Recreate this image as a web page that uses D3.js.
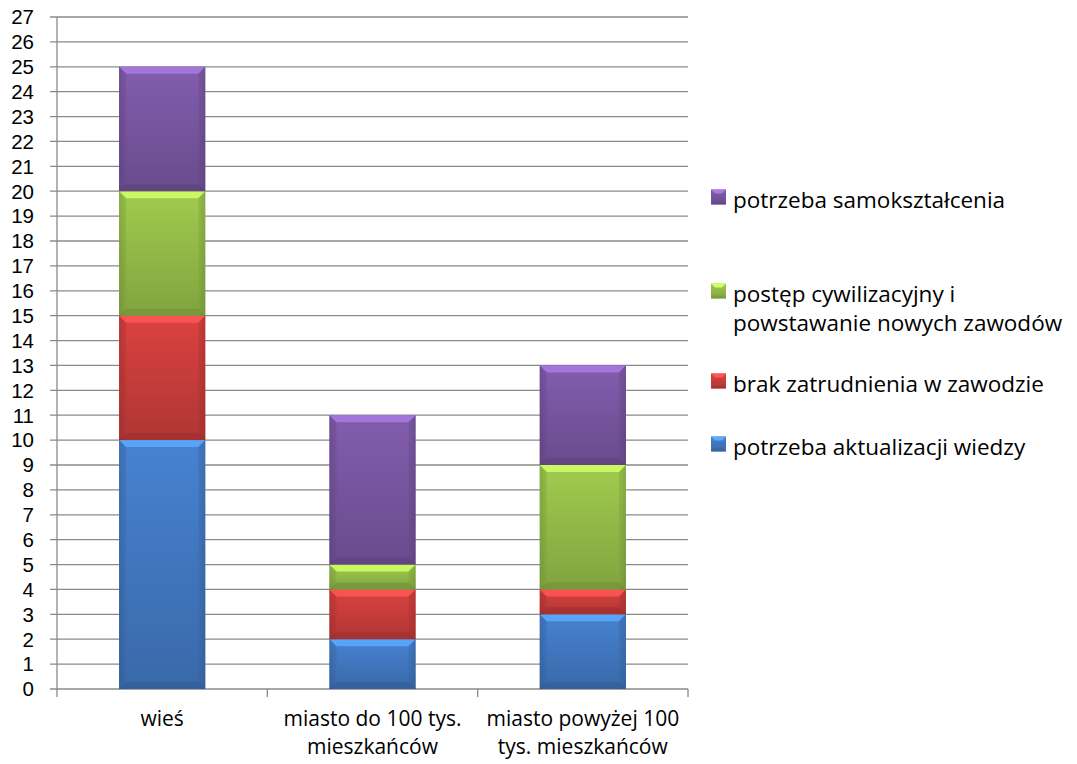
<!DOCTYPE html>
<html><head><meta charset="utf-8">
<script src="https://cdn.jsdelivr.net/npm/d3@7"></script>
<style>body{margin:0;background:#fff}svg{display:block}text{font-family:"Open Sans",sans-serif;fill:#000}</style>
</head><body><svg id="c" width="1077" height="764"></svg>
<script>
const categories = [["wieś"], ["miasto do 100 tys.", "mieszkańców"], ["miasto powyżej 100", "tys. mieszkańców"]];
const seriesNames = ["potrzeba aktualizacji wiedzy", "brak zatrudnienia w zawodzie", "postęp cywilizacyjny i powstawanie nowych zawodów", "potrzeba samokształcenia"];
const aktualizacja = [10, 2, 3];
const brak = [5, 2, 1];
const postep = [5, 1, 5];
const samoksztalcenie = [5, 6, 4];
const yTicks = d3.range(0, 28);
const legendLines = [["potrzeba aktualizacji wiedzy"], ["brak zatrudnienia w zawodzie"], ["postęp cywilizacyjny i", "powstawanie nowych zawodów"], ["potrzeba samokształcenia"]];
const colors = ["#437bc6", "#cf3f3d", "#98c04a", "#7b58a5"];

const svg = d3.select("#c");
const M = {l: 57, r: 688, t: 17, b: 689};
const x = d3.scaleBand().domain(d3.range(categories.length)).range([M.l, M.r]).paddingInner(0.59).paddingOuter(0.295);
const y = d3.scaleLinear().domain([0, 27]).range([M.b, M.t]);
const seriesVals = [aktualizacja, brak, postep, samoksztalcenie];

const defs = svg.append("defs");
colors.forEach((c, i) => {
  const g = defs.append("linearGradient").attr("id", "g" + i).attr("x1", 0).attr("y1", 0).attr("x2", 0).attr("y2", 1);
  const cc = d3.color(c);
  g.append("stop").attr("offset", "0%").attr("stop-color", cc.brighter(0.15));
  g.append("stop").attr("offset", "100%").attr("stop-color", cc.darker(0.45));
  const h = defs.append("linearGradient").attr("id", "h" + i).attr("x1", 0).attr("y1", 0).attr("x2", 1).attr("y2", 0);
  h.append("stop").attr("offset", "0%").attr("stop-color", "#000").attr("stop-opacity", 0.12);
  h.append("stop").attr("offset", "8%").attr("stop-color", "#000").attr("stop-opacity", 0);
  h.append("stop").attr("offset", "92%").attr("stop-color", "#000").attr("stop-opacity", 0);
  h.append("stop").attr("offset", "100%").attr("stop-color", "#000").attr("stop-opacity", 0.12);
});

// gridlines
svg.append("g").selectAll("line").data(yTicks).join("line")
  .attr("x1", M.l - 7).attr("x2", M.r).attr("y1", d => y(d)).attr("y2", d => y(d))
  .attr("stroke", "#8a8a8a").attr("stroke-width", 1.3);
svg.append("line").attr("x1", M.l).attr("x2", M.l).attr("y1", M.t).attr("y2", M.b).attr("stroke", "#8a8a8a").attr("stroke-width", 1.3);
// category ticks
const catTicks = d3.range(categories.length + 1).map(i => M.l + i * (M.r - M.l) / categories.length);
svg.append("g").selectAll("line").data(catTicks).join("line")
  .attr("x1", d => d).attr("x2", d => d).attr("y1", M.b).attr("y2", M.b + 8)
  .attr("stroke", "#8a8a8a").attr("stroke-width", 1.3);

// y labels
svg.append("g").selectAll("text").data(yTicks).join("text")
  .attr("x", 34).attr("y", d => y(d)).attr("dy", "0.36em").attr("text-anchor", "end")
  .style("font-family", "'Liberation Sans', Arial, sans-serif")
  .style("font-size", "20.5px").text(d => d);

// bars
const stack = [];
categories.forEach((c, ci) => {
  let base = 0;
  seriesVals.forEach((vals, si) => {
    const v = vals[ci];
    if (v > 0) stack.push({ci, si, y0: base, y1: base + v});
    base += v;
  });
});
const bw = x.bandwidth();
const gb = svg.append("g");
stack.forEach(d => {
  const x0 = x(d.ci), yTop = y(d.y1), yBot = y(d.y0), h = yBot - yTop;
  const b = Math.min(7, h / 3);
  const c = d3.color(colors[d.si]);
  const g = gb.append("g");
  g.append("rect").attr("x", x0).attr("y", yTop).attr("width", bw).attr("height", h).attr("fill", `url(#g${d.si})`);
  g.append("rect").attr("x", x0).attr("y", yTop).attr("width", bw).attr("height", h).attr("fill", `url(#h${d.si})`);
  g.append("polygon").attr("points", [[x0, yTop], [x0 + bw, yTop], [x0 + bw - b, yTop + b], [x0 + b, yTop + b]].join(" "))
    .attr("fill", c.brighter(0.9)).attr("opacity", 0.85);
  g.append("polygon").attr("points", [[x0, yBot], [x0 + bw, yBot], [x0 + bw - b, yBot - b], [x0 + b, yBot - b]].join(" "))
    .attr("fill", c.darker(0.8)).attr("opacity", 0.6);
  g.append("polygon").attr("points", [[x0, yTop], [x0 + b, yTop + b], [x0 + b, yBot - b], [x0, yBot]].join(" "))
    .attr("fill", c.darker(0.5)).attr("opacity", 0.35);
  g.append("polygon").attr("points", [[x0 + bw, yTop], [x0 + bw - b, yTop + b], [x0 + bw - b, yBot - b], [x0 + bw, yBot]].join(" "))
    .attr("fill", c.darker(0.5)).attr("opacity", 0.35);
});

// category labels
const cl = svg.append("g");
categories.forEach((lines, i) => {
  const cx = x(i) + bw / 2;
  const t = cl.append("text").attr("text-anchor", "middle").style("font-size", "21px");
  lines.forEach((ln, k) => t.append("tspan").attr("x", cx).attr("y", 726 + k * 28).text(ln));
});

// legend
const legY = [447, 384, 294, 200];
const lg = svg.append("g");
legendLines.forEach((lines, i) => {
  const yy = legY[i];
  const c = d3.color(colors[i]);
  const s = 15, mx = 711, my = yy - 3 - s / 2;
  lg.append("rect").attr("x", mx).attr("y", my).attr("width", s).attr("height", s).attr("fill", `url(#g${i})`);
  lg.append("polygon").attr("points", [[mx, my], [mx + s, my], [mx + s - 4, my + 4], [mx + 4, my + 4]].join(" ")).attr("fill", c.brighter(0.9));
  lg.append("polygon").attr("points", [[mx, my + s], [mx + s, my + s], [mx + s - 3, my + s - 3], [mx + 3, my + s - 3]].join(" ")).attr("fill", c.darker(0.7)).attr("opacity", 0.6);
  const t = lg.append("text").style("font-size", "22.5px");
  lines.forEach((ln, k) => t.append("tspan").attr("x", 733).attr("y", yy + k * 29).attr("dy", "0.36em").text(ln));
});
</script></body></html>
